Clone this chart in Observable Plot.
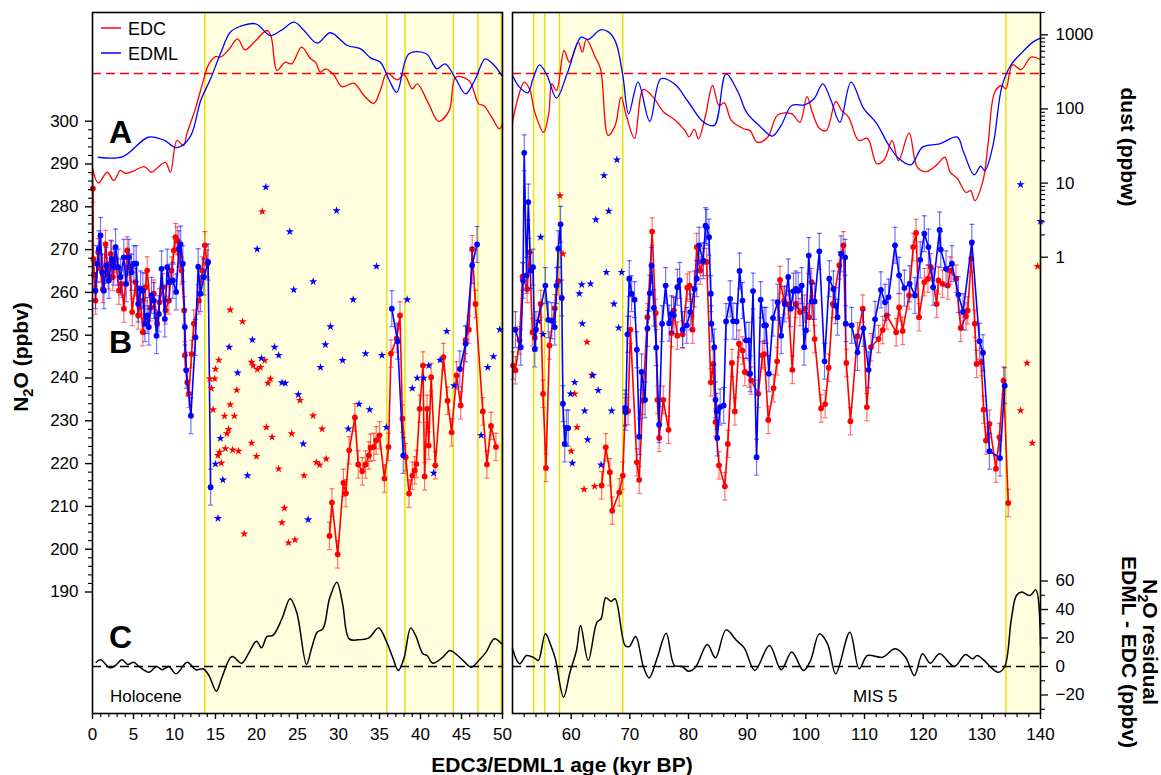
<!DOCTYPE html>
<html><head><meta charset="utf-8">
<script src="https://cdn.jsdelivr.net/npm/d3@7"></script>
<script src="https://cdn.jsdelivr.net/npm/@observablehq/plot@0.6"></script>
<style>
html,body{margin:0;padding:0;background:#fff;}
#wrap{position:relative;width:1161px;height:775px;overflow:hidden;font-family:"Liberation Sans",Arial,sans-serif;}
#wrap svg{position:absolute;left:0;top:0;background:transparent !important;max-width:none !important;}
</style></head><body><div id="wrap"></div>
<script>
// ---------------- DATA ----------------
// N2O (ppbv) EDC, left panel (age kyr BP, value)
const edcHolocene = [[0.05,284.3],[0.1,267.8],[0.2,264],[0.37,258.1],[0.7,269.4],[0.98,265.5],[1.26,260.8],[1.59,271.3],[1.91,264],[2.2,269],[2.48,263.6],[2.81,267.8],[3.22,260.4],[3.54,262],[3.83,256.2],[4.23,269.8],[4.52,265.9],[4.84,255.4],[5.25,262.4],[5.57,254.6],[5.86,258.1],[6.14,250.7],[6.47,261.2],[6.67,265.1],[7.08,256.5],[7.48,259.7],[7.89,252.7],[8.17,257.7],[8.58,261.2],[8.91,255.8],[9.31,258.1],[9.64,265.1],[9.92,269.8],[10.13,272.9],[10.33,272.1],[10.61,269],[10.86,265.1],[11.18,255.8],[11.26,245.3],[11.55,239],[11.75,236.3],[12.08,245.6],[12.36,252.7],[12.97,258.1],[13.38,265.1],[13.7,271],[13.99,266.7]];
const edcGlacial = [[28.9,203.1],[29.2,210.9],[29.9,198.8],[30.6,215.5],[30.9,213.1],[31.3,223.1],[32.0,230.8],[32.4,219.8],[32.9,218.2],[33.3,219.8],[33.7,221.9],[33.9,223.7],[34.3,223.9],[34.6,225.4],[35.0,226.6],[35.6,216.5],[36.1,223.9],[36.4,245.7],[37.1,249.2],[37.5,254.6],[37.8,230.5],[38.2,221.5],[38.6,213],[39.0,217.2],[39.3,218.4],[39.5,219.9],[39.9,232.8],[40.3,242.9],[40.5,217],[40.8,232.8],[41.0,224.2],[41.3,240.2],[41.8,219.6],[42.8,244.9],[43.3,234.7],[43.8,227.3],[44.4,240.6],[44.9,233.6],[45.5,248.9],[45.9,251.3],[46.3,270.1],[46.7,257.3],[47.6,232.2],[48.1,219.8],[48.6,228.8],[49.2,223.9]];
// N2O EDML, left panel
const edmlHolocene = [[0.37,260.4],[0.57,266.7],[0.78,270.2],[0.98,273.3],[1.18,264.7],[1.39,260.4],[1.67,266.3],[2.0,262.8],[2.32,267.8],[2.6,265.9],[2.81,270.6],[3.13,265.9],[3.42,263.6],[3.82,268.2],[4.11,262],[4.43,268.2],[4.76,264.7],[5.04,266.7],[5.33,266.7],[5.57,257.3],[5.86,260.8],[6.14,260.4],[6.39,252.7],[6.67,254.6],[6.87,251.9],[7.2,259.3],[7.48,258.1],[7.81,249.9],[8.09,255],[8.42,265.5],[8.82,253.8],[9.11,265.9],[9.39,262.4],[9.8,262.8],[10.2,260.1],[10.53,270.2],[10.74,271.3],[11.02,266.7],[11.26,251.9],[11.43,241.8],[12.0,231.2],[12.56,249.5],[12.89,266],[13.17,259.7],[13.58,263.6],[14.1,267.1],[14.4,214.5]];
const edmlGlacialA = [[36.5,256.2],[37.2,248.6],[37.9,221.9]];
const edmlGlacialB = [[44.8,242.1],[45.5,248],[46.3,266.3],[46.9,271.2]];
// N2O EDC, right panel
const edcMIS4 = [[50.1,242.9],[50.5,241.8],[51.2,248.8],[51.7,263.7],[52.5,260.8],[52.9,269.4],[53.4,250.7],[53.8,249.4],[54.8,257.3],[55.2,236.3],[55.7,219],[56.3,247.6],[57.2,256.3],[57.8,262.6]];
const edcMIS5 = [[65.2,214.9],[65.9,223.8],[66.6,218],[67.0,209],[68.2,213.3],[68.8,217.2],[69.2,232.2],[69.7,232.3],[70.1,251.3],[71.2,220.3],[71.6,216.2],[72.2,234.7],[73.0,254.2],[73.8,274.2],[74.4,255.2],[74.7,234.9],[75.0,226],[75.7,234.9],[76.6,227.9],[77.1,250.5],[77.5,255.8],[78.1,249.9],[79.0,250.2],[79.8,261.1],[80.2,261.6],[80.7,251.3],[81.4,270.6],[82.0,265.1],[82.5,267.1],[83.1,267.1],[83.8,239],[84.2,243.3],[84.6,229.7],[85.2,219.6],[86.2,214.7],[86.7,224.6],[87.4,243.5],[87.9,232.2],[88.6,248],[89.2,246.4],[89.6,241.4],[90.3,241],[90.7,239.4],[91.9,236.3],[92.6,245.3],[92.9,245.6],[93.6,230.2],[94.5,237.6],[95.1,243.9],[95.6,262.9],[96.3,258.1],[97.0,257.2],[97.7,241.9],[98.3,257.3],[99.0,255.4],[99.8,256.2],[100.5,254.2],[101.0,262.4],[101.5,249.1],[102.6,232.9],[103.3,233.9],[103.9,242.4],[104.6,257.3],[105.7,266.3],[106.4,271],[106.9,243.5],[107.6,229.9],[108.8,249.7],[109.7,256.2],[110.4,233.2],[111.1,247.2],[112.4,249.1],[113.1,251.2],[113.8,254.6],[115.4,250.7],[115.9,256.5],[116.5,251],[117.6,259.3],[118.3,270.6],[118.8,273.9],[119.3,254.2],[120.2,262.4],[120.8,263.2],[121.3,265.9],[122.3,257.3],[122.6,262.8],[123.3,262],[124.2,261.6],[124.6,265.1],[125.6,263.2],[126.4,251.7],[127.3,254.4],[127.6,255.8],[128.2,267.9],[128.8,252.7],[129.1,243.3],[129.9,243.7],[130.3,232.6],[130.7,225.4],[131.3,229.3],[132.4,218.8],[133.0,226.2],[133.7,239.4],[134.5,210.8]];
// N2O EDML, right panel
const edmlMIS4 = [[50.5,251.3],[51.4,247.2],[51.8,262.8],[52.0,292.6],[52.4,264],[52.7,281.1],[53.1,265.1],[53.5,265.9],[53.8,246.8],[54.0,251.3],[55.6,261.6],[56.1,253.6],[56.7,253.4],[57.2,251.9],[57.5,261.6],[57.8,270.2],[58.2,275.9],[58.4,258.7],[58.6,234],[58.9,224.6],[59.2,228.3],[59.5,228.3]];
const edmlMIS5 = [[69.2,233],[69.3,232],[69.6,250.2],[69.9,263.2],[70.3,259.7],[70.8,258.3],[71.2,246.6],[71.6,226.3],[72.0,241.4],[72.6,234.9],[73.0,251.6],[73.4,259.8],[73.7,266.3],[74.1,256.4],[74.5,247.1],[75.0,229.1],[75.5,252.7],[76.1,261.6],[76.7,252.8],[77.1,255],[77.5,254.6],[78.1,261.2],[78.5,262.8],[79.0,251.3],[79.7,252.3],[80.3,255.4],[81.0,260.8],[81.4,263.2],[81.8,271],[82.5,267.4],[82.9,275.6],[83.1,275.2],[83.5,272.9],[83.8,259.7],[83.9,252.7],[84.4,247.2],[84.6,234.9],[84.8,232.2],[84.9,226],[85.4,233.2],[86.0,233.6],[86.4,253.2],[87.1,258.5],[87.6,253.3],[88.2,253.2],[88.7,265],[89.2,258.1],[89.8,248.8],[90.3,248.8],[90.5,241],[91.0,260.3],[91.6,221.5],[92.3,258.3],[92.9,252.3],[93.2,252.3],[93.7,241],[94.4,254],[95.2,257.7],[95.8,249.9],[96.4,257.3],[97.0,263.6],[97.4,256.2],[97.9,260.3],[98.3,260.8],[98.7,260.4],[99.3,261.6],[99.7,247.2],[100.0,251.1],[100.5,268.6],[101.0,257.9],[101.5,257.9],[102.3,269.6],[103.2,243.9],[104.0,263.2],[104.7,260.8],[105.1,256.9],[105.4,254.2],[106.0,269],[106.7,268.2],[106.8,252.7],[107.8,252.3],[108.8,246],[109.8,251.6],[110.7,241.9],[111.8,253.7],[112.8,260.6],[113.5,257.7],[114.1,258.9],[115.2,271],[115.9,264],[116.8,261],[117.7,262],[118.6,259.3],[119.5,267.6],[120.2,273.7],[120.9,270.6],[121.7,261.2],[122.8,274.6],[123.0,270],[123.9,265.5],[124.9,266.7],[126.0,259.5],[126.8,255.5],[128.3,271.7],[129.6,248.6],[130.2,245.9],[131.3,222.9],[133.1,221.3],[133.9,238.2]];
// Stars (unconnected samples)
const edcStars = [[20.7,278.9],[16.8,255.9],[18.3,253.2],[15.4,244.2],[15.0,242.1],[14.3,239.8],[14.9,239.8],[14.5,237.6],[14.7,232.6],[16.1,231.1],[17.3,231.1],[16.8,233.8],[17.6,237.2],[16.6,228],[16.4,227],[16.2,223.5],[17.1,223.2],[17.8,222.9],[15.5,222.7],[15.3,221.9],[15.7,220.1],[19.4,243.7],[19.6,242.9],[20.1,242],[20.5,242.5],[21.0,244.1],[21.4,238.8],[21.7,239.8],[19.4,224.8],[20.0,221.7],[21.2,228.5],[21.9,226.2],[22.7,218.8],[25.3,234.8],[24.3,227],[26.9,231.2],[28.0,228.1],[25.8,217.2],[27.3,220.3],[27.7,219.7],[28.5,221.1],[23.4,209.6],[23.1,206.2],[23.9,201.5],[24.7,202.2],[18.5,203.6],[58.1,282.6],[58.6,269],[60.0,222.9],[60.6,236.3],[61.0,228.5],[62.2,214],[62.7,248.4],[63.5,240.7],[64.0,214.7],[136.6,232.4],[137.7,243.5],[138.6,224.8],[139.5,266.1]];
const edmlStars = [[21.14,284.6],[29.76,279.1],[24.06,274.2],[20.08,270.1],[34.63,266.1],[26.91,262.5],[24.55,260.6],[31.79,258.3],[38.38,258.3],[29.02,252],[49.67,251.3],[16.67,247.2],[19.5,248.9],[22.2,247.2],[28.4,247.8],[33.3,245.7],[35.3,245.3],[30.5,244.1],[27.8,242.5],[20.6,244.6],[22.7,245.3],[48.9,245],[48.2,242.5],[17.7,241.2],[23.1,238.9],[23.5,238.8],[25.1,236.1],[39.0,237.6],[39.6,240],[40.4,240],[41.0,242.9],[42.4,244.2],[43.2,250.9],[44.1,238.2],[32.5,233.9],[33.8,232.6],[31.2,228.1],[35.85,228.5],[25.7,224.6],[15.6,225.9],[15.0,219.9],[15.9,216.2],[18.9,217.2],[41.6,217.8],[47.4,226.6],[15.3,207.2],[26.3,206.9],[54.4,253.3],[54.8,272.9],[55.2,250.2],[59.9,236.3],[60.2,220.1],[60.6,239],[61.4,259.7],[61.8,261.8],[61.9,252.7],[62.3,232.3],[62.8,225.6],[63.3,262],[63.7,240.6],[64.2,277],[64.6,237.1],[65.1,219.7],[65.6,287.3],[66.0,264.7],[66.4,279],[66.9,232.3],[67.3,257.3],[67.8,291],[68.1,251.7],[68.6,264.7],[136.6,285.2],[140.0,276.6]];
const errEDC = 3.2, errEDML = 4.2;   // typical 1-sigma (ppbv)

// Dust (ppbw)
const edcDustL = [[0,16],[0.7,10],[1.8,14],[2.6,10.8],[3.4,14.8],[4.0,13.5],[5.0,14.5],[6.3,16.7],[7.2,14],[7.9,16],[8.9,19],[9.5,14],[10.3,37.5],[11.1,32],[11.5,46],[12.6,105],[13.4,218],[14.2,406],[15.0,509],[15.6,500],[16.6,628],[17.7,883],[18.6,628],[19.7,794],[21.3,1143],[21.8,929],[22.5,330],[23.5,427],[24.3,406],[25.5,681],[26.6,474],[27.2,427],[27.8,313],[28.4,348],[29.4,291],[30.4,200],[31.9,222],[33.1,152],[34.3,119],[35.1,177],[35.9,303],[37.2,247],[38.0,291],[39.0,187],[39.6,218],[41.0,117],[42.2,68],[43.5,95],[44.3,268],[45.9,242],[47.1,117],[47.7,111],[48.7,77],[49.6,54],[50,62]];
const edmlDustL = [[0.7,22.3],[3.7,22.8],[6.8,41.5],[8.7,38],[10.3,30],[11.9,42],[13.2,130],[14.4,255],[15.6,555],[16.8,1084],[18.0,1294],[19.9,1407],[21.7,978],[23.1,1167],[24.6,1479],[25.8,1143],[27.4,771],[29.0,1065],[31.1,717],[32.7,647],[33.9,489],[35.1,427],[36.2,242],[37.1,168],[38.6,555],[40.7,555],[42.0,348],[43.0,406],[44.3,255],[45.5,160],[46.7,255],[47.9,474],[49.0,385],[50,274]];
const edcDustR = [[50,66],[50.9,137],[52.0,230],[52.9,187],[53.8,90],[55.3,48.5],[56.2,90],[56.7,218],[57.5,177],[58.8,614],[59.7,427],[61.2,796],[61.9,583],[62.6,865],[64.1,499],[65.0,348],[66.3,44],[67.5,60],[68.5,144],[69.4,81.5],[70.8,40],[72.3,183],[74.1,140],[75.8,90],[77.6,72],[79.4,51],[80.1,42],[81.0,53],[81.7,39.5],[82.9,81.5],[84.1,207],[85.2,111],[86.1,121],[87.3,70],[89.4,54],[90.5,51],[91.7,35.6],[93.5,41.6],[95.2,83],[97.6,86],[99.0,66],[100.2,147],[101.1,90],[102.3,55],[103.5,51],[105.1,126],[106.1,95],[107.3,77],[109.0,37.5],[110.5,40],[112.1,18.2],[113.4,20.8],[114.7,37.5],[115.8,20],[117.6,47.5],[119.0,16.4],[120.5,14.3],[122.3,17.6],[123.7,22.3],[124.6,14],[125.8,11.6],[127.3,7.5],[128.1,7.9],[128.8,5.8],[130.2,10.8],[131.1,35.6],[132.2,168],[133.4,207],[134.1,187],[135.2,394],[136.7,340],[138.4,499],[140,464]];
const edmlDustR = [[50,283],[51.2,197],[52.6,165],[53.5,255],[54.6,394],[55.9,283],[57.5,140],[59.4,313],[61.7,929],[62.9,865],[65.0,1167],[66.4,1086],[67.6,796],[68.8,283],[69.8,86],[71.4,230],[73.4,68],[75.3,255],[77.6,218],[80.0,123],[82.6,66],[84.4,60],[86.4,297],[88.5,165],[89.9,90],[92.3,57],[94.3,43],[95.8,60],[97.6,111],[99.9,114],[101.4,137],[102.9,218],[104.3,130],[105.8,66],[107.7,230],[109.9,100],[112.0,65],[114.0,33.8],[115.8,21.6],[117.9,17.6],[119.9,30.5],[122.8,33.8],[125.8,41.6],[126.9,26],[128.7,12.9],[129.8,16.9],[130.5,14.7],[131.9,32],[133.4,197],[134.9,385],[136.9,583],[138.7,796],[140,902]];
const dustThreshold = [300];

// N2O residual EDML - EDC (ppbv)
const residL = [[0.45,3.0],[1.0,4.7],[2.1,-0.9],[2.8,0.7],[3.6,4.7],[4.3,1.4],[5.0,3.0],[5.7,0],[6.9,-4.0],[7.8,0],[8.5,-2.3],[9.3,0],[10.2,-5.1],[11.55,3.0],[12.6,-2.3],[13.5,-1.6],[14.2,-6.3],[15.1,-17.3],[15.8,-7.5],[17.0,7.0],[18.2,2.3],[19.0,8.9],[20.0,17.8],[20.6,13.1],[21.3,21.1],[22.0,21.8],[23.1,33.5],[24.1,47.5],[24.9,38.1],[26.1,1.4],[26.7,12.4],[27.4,24.1],[28.1,26.4],[28.9,47.5],[29.8,59.2],[30.5,44],[31.3,19.4],[32.4,18.7],[33.7,20.1],[34.9,27.1],[35.8,18.2],[36.6,6.5],[37.3,-2.8],[38.0,6.1],[38.8,27.1],[39.4,21.8],[40.3,8.9],[40.8,7.7],[41.5,2.3],[42.7,6.5],[43.6,11.2],[44.4,8.4],[45.2,4.2],[46.2,-0.5],[47.1,4.2],[48.0,10.1],[49.0,19.4],[49.9,15.9]];
const residR = [[50,12.4],[51.2,1.9],[52.4,7.7],[53.7,6.1],[54.4,4.2],[55.6,22.9],[56.6,14],[57.3,5.4],[58.7,-21.5],[59.8,-4.0],[60.9,11.2],[61.6,28.8],[62.9,4.2],[64.4,31.1],[65.1,33.5],[65.9,48.2],[66.8,45.8],[67.5,47.5],[69.2,14.7],[69.9,14],[71.0,21.1],[72.3,0],[73.3,-8.0],[74.7,6.5],[76.2,23.4],[77.6,0.7],[78.9,0],[80.0,-3.3],[81.2,-0.5],[83.2,15.4],[84.6,6.1],[86.4,25.7],[88.2,18.2],[89.5,13.1],[91.3,-2.8],[93.8,14.7],[95.8,-2.3],[97.6,10.1],[99.6,-2.8],[100.8,4.2],[102.3,22.9],[103.7,15.9],[105.1,-5.1],[107.5,24.1],[109.1,-1.6],[110.5,7.7],[113.1,6.5],[115.2,12.4],[117.0,6.5],[118.5,-6.3],[119.9,8.9],[121.2,2.3],[122.8,8.9],[125.3,0],[127.2,8.4],[128.4,5.4],[129.2,7.7],[130.3,4.7],[131.4,0],[132.8,-4.0],[133.9,0],[135.0,32.3],[135.9,49.8],[136.8,52.2],[138.2,49.8],[139.2,53.8],[140,14.7]];

// Shaded intervals (kyr BP)
const shadeStartL = [13.7, 38.1, 47.0], shadeEndL = [35.9, 44.0, 49.85];
const shadeStartR = [53.6, 58.0, 134.1], shadeEndR = [55.5, 68.8, 140];

// Ticks
const xTicksL = [0,5,10,15,20,25,30,35,40,45,50];
const xTicksR = [60,70,80,90,100,110,120,130,140];
const n2oTicks = [190,200,210,220,230,240,250,260,270,280,290,300];
const dustTicks = [1,10,100,1000];
const residTicks = [-20,0,20,40,60];

// ---------------- DRAWING ----------------
const W = 1161, H = 775, TOP = 12, BOT = 713;
const RED = "#ff0000", BLUE = "#0000ff", SHADE = "#ffffe0", SHADE_EDGE = "#e2e200";
const FONT = "Liberation Sans, Arial, sans-serif";
const obj = a => a.map(([age, v]) => ({age, v}));
const wrap = document.getElementById("wrap");

const L = {xd: [0, 50], ml: 92, mr: W - 502, xt: xTicksL, xm: d3.range(0, 51, 1).filter(d => d % 5)};
const R = {xd: [50, 140], ml: 512, mr: W - 1040, xt: xTicksR, xm: d3.range(50, 141, 2).filter(d => d % 10)};

const yN2O = {domain: [190, 300], range: [591.5, 120.7]};
const yDust = {type: "log", domain: [1, 1000], range: [256.7, 34.3]};
const yRes = {domain: [-20, 60], range: [694.5, 580.5]};

function mk(p, y, marks, opts = {}) {
  const svg = Plot.plot({
    width: W, height: H,
    marginLeft: p.ml, marginRight: p.mr, marginTop: TOP, marginBottom: H - BOT,
    x: Object.assign({domain: p.xd}, opts.xAxis ? {} : {axis: null}),
    y: Object.assign({}, y, opts.yAxis ? {} : {axis: null}),
    style: {background: "transparent", fontFamily: FONT, color: "black", overflow: "visible"},
    marks
  });
  wrap.appendChild(svg);
  return svg;
}

const capSym = {draw(ctx, size) { const w = Math.sqrt(size / Math.PI); ctx.moveTo(-w, 0); ctx.lineTo(w, 0); }};

function n2oMarks(series, color, err) {
  const out = [];
  for (const s of series) {
    const d = obj(s);
    out.push(Plot.ruleX(d, {x: "age", y1: r => r.v - err, y2: r => r.v + err, stroke: color, strokeOpacity: 0.55, strokeWidth: 1.2}));
    out.push(Plot.dot(d, {x: "age", y: r => r.v + err, symbol: capSym, r: 2.5, stroke: color, strokeOpacity: 0.55, fill: "none", strokeWidth: 1.2}));
    out.push(Plot.dot(d, {x: "age", y: r => r.v - err, symbol: capSym, r: 2.5, stroke: color, strokeOpacity: 0.55, fill: "none", strokeWidth: 1.2}));
    out.push(Plot.line(d, {x: "age", y: "v", stroke: color, strokeWidth: 1.6}));
    out.push(Plot.dot(d, {x: "age", y: "v", r: 2.9, fill: color, stroke: "none"}));
  }
  return out;
}

function panel(p, s) {
  const inside = a => obj(a).filter(d => d.age >= p.xd[0] && d.age <= p.xd[1]);
  const shades = s.start.map((a, i) => ({a, b: s.end[i]}));
  const edges = s.start.concat(s.end);
  // shading layer
  mk(p, yN2O, [
    Plot.rect(shades, {x1: "a", x2: "b", fill: SHADE}),
    Plot.ruleX(edges, {stroke: SHADE_EDGE, strokeWidth: 1.4})
  ]);
  // dust layer
  const dm = [
    Plot.ruleY(dustThreshold, {stroke: RED, strokeWidth: 1.4, strokeDasharray: "9,5"}),
    Plot.line(obj(s.edcDust), {x: "age", y: "v", stroke: RED, strokeWidth: 1.3, curve: "catmull-rom"}),
    Plot.line(obj(s.edmlDust), {x: "age", y: "v", stroke: BLUE, strokeWidth: 1.3, curve: "catmull-rom"})
  ];
  if (s.right) {
    dm.push(Plot.axisY({anchor: "right", ticks: dustTicks, tickFormat: d => String(d), tickSize: 7, tickPadding: 8, fontSize: 17, label: null, strokeWidth: 1.3}));
    dm.push(Plot.axisY({anchor: "right", ticks: [2,3,4,5,6,7,8,9,20,30,40,50,60,70,80,90,200,300,400,500,600,700,800,900,2000], tickSize: 4, tickFormat: () => "", label: null, strokeWidth: 1.1}));
  }
  mk(p, yDust, dm, {yAxis: s.right});
  // residual layer
  const rm = [
    Plot.ruleY([0], {stroke: "black", strokeWidth: 1.4, strokeDasharray: "9,5"}),
    Plot.line(obj(s.resid), {x: "age", y: "v", stroke: "black", strokeWidth: 1.5, curve: "catmull-rom"})
  ];
  if (s.right) {
    rm.push(Plot.axisY({anchor: "right", ticks: residTicks, tickSize: 7, tickPadding: 8, fontSize: 17, label: null, strokeWidth: 1.3}));
    rm.push(Plot.axisY({anchor: "right", ticks: [-30,-10,10,30,50], tickSize: 4, tickFormat: () => "", label: null, strokeWidth: 1.1}));
  }
  mk(p, yRes, rm, {yAxis: s.right});
  // N2O layer
  const nm = [
    ...n2oMarks(s.edc, RED, errEDC),
    ...n2oMarks(s.edml, BLUE, errEDML),
    Plot.dot(inside(edcStars), {x: "age", y: "v", symbol: "star", r: 2.6, fill: RED, stroke: "none"}),
    Plot.dot(inside(edmlStars), {x: "age", y: "v", symbol: "star", r: 2.6, fill: BLUE, stroke: "none"}),
    Plot.frame({stroke: "black", strokeWidth: 1.6}),
    Plot.axisX({anchor: "bottom", ticks: p.xt, tickSize: 6, tickPadding: 8, fontSize: 17, label: null, strokeWidth: 1.4}),
    Plot.axisX({anchor: "bottom", ticks: p.xm, tickSize: 4, tickFormat: () => "", label: null, strokeWidth: 1.2})
  ];
  if (!s.right) {
    nm.push(Plot.axisY({anchor: "left", ticks: n2oTicks, tickSize: 7, tickPadding: 7, fontSize: 17, label: null, strokeWidth: 1.4}));
    nm.push(Plot.axisY({anchor: "left", ticks: d3.range(190, 301, 2).filter(d => d % 10), tickSize: 4, tickFormat: () => "", label: null, strokeWidth: 1.1}));
  }
  mk(p, yN2O, nm, {xAxis: true, yAxis: !s.right});
}

panel(L, {start: shadeStartL, end: shadeEndL, edcDust: edcDustL, edmlDust: edmlDustL, resid: residL,
  edc: [edcHolocene, edcGlacial], edml: [edmlHolocene, edmlGlacialA, edmlGlacialB], right: false});
panel(R, {start: shadeStartR, end: shadeEndR, edcDust: edcDustR, edmlDust: edmlDustR, resid: residR,
  edc: [edcMIS4, edcMIS5], edml: [edmlMIS4, edmlMIS5], right: true});

// ---------------- TEXT OVERLAY ----------------
const ov = d3.create("svg").attr("width", W).attr("height", H).style("font-family", FONT).style("pointer-events", "none");
// legend
ov.append("line").attr("x1", 101).attr("x2", 121).attr("y1", 28).attr("y2", 28).attr("stroke", RED).attr("stroke-width", 1.5);
ov.append("text").attr("x", 128).attr("y", 35).attr("font-size", 18).text("EDC");
ov.append("line").attr("x1", 101).attr("x2", 121).attr("y1", 53).attr("y2", 53).attr("stroke", BLUE).attr("stroke-width", 1.5);
ov.append("text").attr("x", 128).attr("y", 60).attr("font-size", 18).text("EDML");
// panel letters
[["A", 143], ["B", 353], ["C", 648]].forEach(([t, y]) =>
  ov.append("text").attr("x", 109).attr("y", y).attr("font-size", 32).attr("font-weight", "bold").text(t));
ov.append("text").attr("x", 110).attr("y", 702).attr("font-size", 17).text("Holocene");
ov.append("text").attr("x", 853).attr("y", 702).attr("font-size", 17).text("MIS 5");
// axis titles
function sub(t, parts, size) {
  parts.forEach(([s, isSub]) => {
    const ts = t.append("tspan").text(s);
    if (isSub) ts.attr("font-size", size * 0.7).attr("dy", size * 0.25);
    else if (t.node().childNodes.length > 1) ts.attr("dy", -size * 0.25);
  });
}
const t1 = ov.append("text").attr("transform", "translate(28,357) rotate(-90)").attr("text-anchor", "middle").attr("font-size", 21).attr("font-weight", "bold");
sub(t1, [["N", false], ["2", true], ["O (ppbv)", false]], 21);
ov.append("text").attr("transform", "translate(1121,147) rotate(90)").attr("text-anchor", "middle").attr("font-size", 21).attr("font-weight", "bold").text("dust (ppbw)");
const t3 = ov.append("text").attr("transform", "translate(1143,642) rotate(90)").attr("text-anchor", "middle").attr("font-size", 21).attr("font-weight", "bold");
sub(t3, [["N", false], ["2", true], ["O residual", false]], 21);
ov.append("text").attr("transform", "translate(1122,652) rotate(90)").attr("text-anchor", "middle").attr("font-size", 21).attr("font-weight", "bold").text("EDML - EDC (ppbv)");
ov.append("text").attr("x", 562).attr("y", 772).attr("text-anchor", "middle").attr("font-size", 21).attr("font-weight", "bold").text("EDC3/EDML1 age (kyr BP)");
wrap.appendChild(ov.node());
</script></body></html>
